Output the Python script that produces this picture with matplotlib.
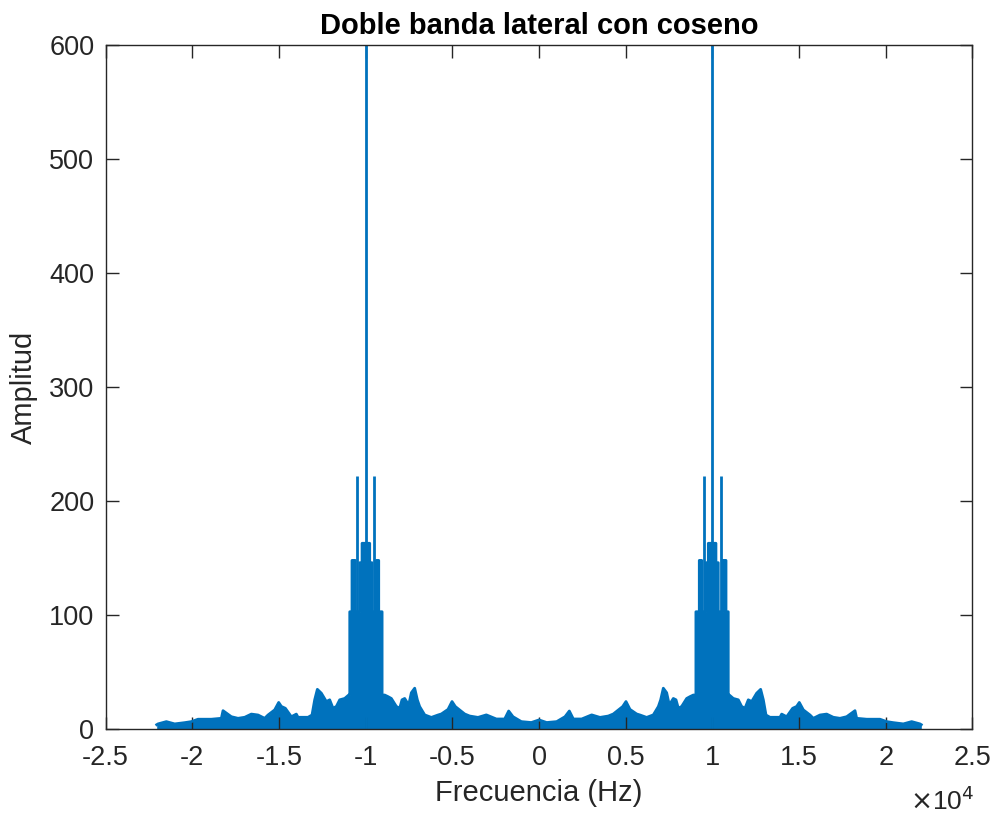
import numpy as np
import matplotlib
matplotlib.use('Agg')
import matplotlib.pyplot as plt

# positive half of the spectrum (Hz, amplitude), mirrored for the negative half
freq_pos = [0, 442, 1019, 1499, 1749, 1980, 2460, 3037, 3518, 3998, 4286, 4825, 5017,
            5248, 5632, 5825, 6209, 6593, 6883, 7017, 7170, 7363, 7516, 7747, 7901,
            8036, 8228, 8517, 8709, 8901, 9050,
            9050, 9245, 9245, 9385, 9385, 9630, 9630, 9765, 9765, 10205, 10205,
            10340, 10340, 10595, 10595, 10785, 10785, 10915, 10915,
            10977, 11208, 11495, 11688, 11880, 12072, 12265, 12553, 12784, 12938,
            13092, 13322, 13900, 13996, 14284, 14630, 14860, 15014, 15245, 15630,
            15822, 16206, 16591, 16975, 17360, 17744, 18225, 18321, 18898, 19667,
            20051, 20436, 21012, 21493, 21974, 22050]
amp_pos = [8.2, 5.9, 6.7, 11, 16, 9, 9, 12.6, 10.4, 11.6, 13.4, 19.9, 24.3,
           17.4, 13.4, 12.5, 10.4, 12.6, 19.9, 25.8, 36, 32, 21.3, 27, 25.8,
           18.4, 20, 27, 28.6, 30, 30,
           103, 103, 148, 148, 103, 103, 146, 146, 163, 163, 146,
           146, 103, 103, 148, 148, 103, 103, 30,
           30, 27, 25.8, 20, 18.4, 25.8, 24.3, 31.6, 35, 25.8,
           12.5, 10.5, 10.5, 13.3, 11, 18.4, 20, 23.5, 17, 12.5,
           9.6, 12.5, 13.3, 10.5, 9.6, 11, 16.3, 9.6, 8.8, 8.8,
           6.7, 5.8, 4.7, 6.7, 4.7, 4.0]

# narrow spectral lines: carrier and strongest sidebands
spike_f = [9500, 10000, 10480]
spike_a = [222, 700, 222]

freq = np.concatenate([-np.array(freq_pos[::-1]), np.array(freq_pos[1:])])
amp = np.concatenate([np.array(amp_pos[::-1]), np.array(amp_pos[1:])])
sf = np.concatenate([-np.array(spike_f), np.array(spike_f)])
sa = np.concatenate([np.array(spike_a), np.array(spike_a)])

plt.rcParams['font.family'] = ['Liberation Sans', 'DejaVu Sans']
blue = '#0072BD'
dark = '#262626'

fig = plt.figure(figsize=(9.92, 8.14), dpi=100)
ax = fig.add_axes([0.1064, 0.1041, 0.8739, 0.841])

ax.fill_between(freq, 0, amp, color=blue, linewidth=0)
ax.plot(freq, amp, color=blue, lw=2)
ax.vlines(sf, 0, sa, color=blue, lw=2)

ax.set_xlim(-25000, 25000)
ax.set_ylim(0, 600)
xt = np.arange(-25000, 25001, 5000)
ax.set_xticks(xt)
ax.set_xticklabels(['-2.5', '-2', '-1.5', '-1', '-0.5', '0', '0.5', '1', '1.5', '2', '2.5'])
ax.set_yticks(np.arange(0, 601, 100))
ax.tick_params(direction='in', length=9, width=1, top=True, right=True,
               labelsize=19.5, colors=dark)
ax.tick_params(axis='x', pad=11)
ax.tick_params(axis='y', pad=8)
for s in ax.spines.values():
    s.set_color(dark)
    s.set_linewidth(1)
ax.set_xlabel('Frecuencia (Hz)', fontsize=21, color=dark, labelpad=6)
ax.set_ylabel('Amplitud', fontsize=21, color=dark, labelpad=8)
ax.set_title('Doble banda lateral con coseno', fontsize=21, fontweight='bold', pad=8)
ax.text(0.965, -0.105, r'$\times$10$^4$', transform=ax.transAxes, fontsize=19,
        color=dark, ha='center', va='center')

fig.savefig('out.png', dpi=100)
